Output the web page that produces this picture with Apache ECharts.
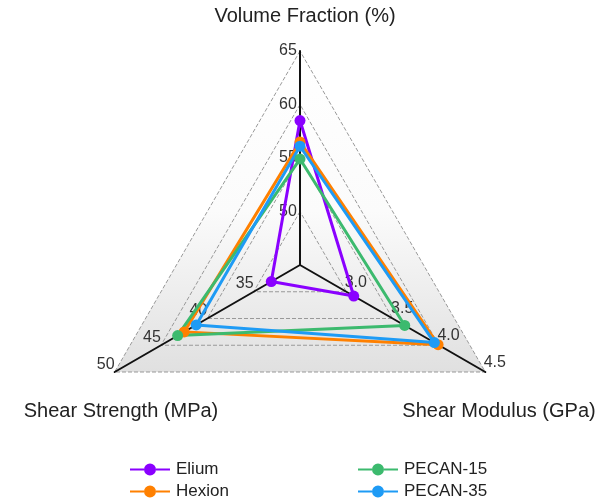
<!DOCTYPE html>
<html><head><meta charset="utf-8">
<script src="https://cdn.jsdelivr.net/npm/echarts@6/dist/echarts.min.js"></script>
<style>html,body{margin:0;padding:0;background:#fff}#c{width:601px;height:500px}</style>
</head><body><div id="c"></div>
<script>
// indicator order (counter-clockwise from top): Volume Fraction, Shear Strength, Shear Modulus
const indicatorNames = ['Volume Fraction (%)', 'Shear Strength (MPa)', 'Shear Modulus (GPa)'];
const indicatorMin = [45, 30, 2.5];
const indicatorMax = [65, 50, 4.5];
const seriesNames = ['Elium', 'Hexion', 'PECAN-15', 'PECAN-35'];
const elium = [58.5, 33.1, 3.08];
const hexion = [56.5, 42.5, 3.99];
const pecan15 = [54.9, 43.2, 3.63];
const pecan35 = [56.1, 41.2, 3.95];
const colors = ['#8a00ff', '#ff8000', '#3cba6e', '#1e9bf5'];

const chart = echarts.init(document.getElementById('c'));
const font = 'Liberation Sans, Arial, sans-serif';
const legendIcon = 'path://M0,5L14,5L14,7L0,7Z M14,6A6,6 0 1,0 26,6A6,6 0 1,0 14,6Z M26,5L40,5L40,7L26,7Z';
const vals = [elium, hexion, pecan15, pecan35];
const labelStyles = [
  {margin: 12, align: 'center', verticalAlign: 'middle', padding: [0, 0, 5, 0]},
  {margin: -9, align: 'center', verticalAlign: 'middle', padding: [0, 9, 0, 0]},
  {margin: 11, align: 'center', verticalAlign: 'middle', padding: [0, 0, 0, 8]}
];
const titleStyle = {fontFamily: font, fontSize: 20, fontWeight: 'normal', color: '#222'};
const legendCommon = {orient: 'vertical', top: 461, padding: 0, itemGap: 5, itemWidth: 40, itemHeight: 12, icon: legendIcon,
  textStyle: {fontFamily: font, fontSize: 17, lineHeight: 16, color: '#222', padding: [0, 0, 0, 1]}};
chart.setOption({
  animation: false,
  title: [
    {text: indicatorNames[0], left: 300, top: 1, textAlign: 'center', textStyle: titleStyle},
    {text: indicatorNames[1], left: 116, top: 396, textAlign: 'center', textStyle: titleStyle},
    {text: indicatorNames[2], left: 494, top: 396, textAlign: 'center', textStyle: titleStyle}
  ],
  legend: [
    Object.assign({data: [seriesNames[0], seriesNames[1]], left: 130}, legendCommon),
    Object.assign({data: [seriesNames[2], seriesNames[3]], left: 358}, legendCommon)
  ],
  radar: {
    center: [300, 265],
    radius: 214,
    startAngle: 90,
    splitNumber: 4,
    shape: 'polygon',
    indicator: indicatorNames.map((n, i) => ({name: n, min: indicatorMin[i], max: indicatorMax[i], axisLabel: labelStyles[i]})),
    axisName: {show: false},
    axisLine: {lineStyle: {color: '#111', width: 2}},
    splitLine: {lineStyle: {color: '#999', type: 'dashed', width: 1}},
    splitArea: {show: true, areaStyle: {color: [new echarts.graphic.LinearGradient(0, 50, 0, 372, [{offset: 0, color: '#ffffff'}, {offset: 0.5, color: '#fbfbfb'}, {offset: 1, color: '#e0e0e0'}], true)]}},
    axisLabel: {show: true, showMinLabel: false, fontFamily: font, fontSize: 16, color: '#333',
      formatter: v => v < 10 ? v.toFixed(1) : String(v)}
  },
  series: [{
    type: 'radar',
    symbol: 'circle',
    symbolSize: 11,
    data: seriesNames.map((n, i) => ({
      name: n, value: vals[i],
      lineStyle: {color: colors[i], width: 3},
      itemStyle: {color: colors[i]}
    }))
  }],
  color: colors
});
</script></body></html>
